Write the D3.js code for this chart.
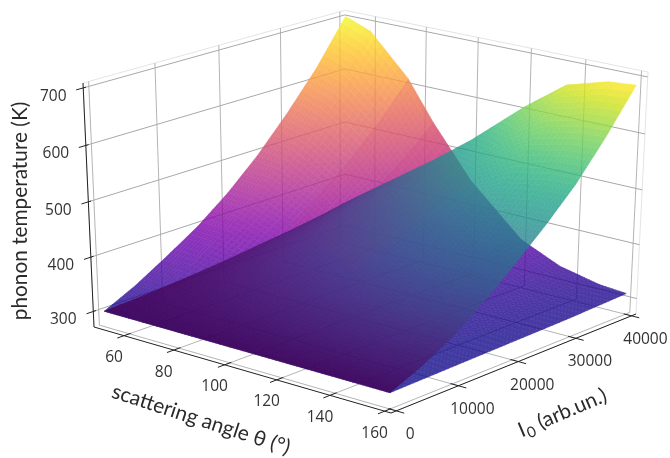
<!DOCTYPE html>
<html>
<head>
<meta charset="utf-8">
<script src="https://cdn.jsdelivr.net/npm/d3@7"></script>
<style>
    html, body { margin: 0; padding: 0; background: #fff; }
    svg { display: block; filter: blur(0.45px); }
    .tick-label { font-family: "Open Sans", sans-serif; font-size: 15.5px; fill: #333; text-anchor: middle; dominant-baseline: central; }
    .axis-label { font-family: Lato, sans-serif; font-size: 20.8px; fill: #2a2a2a; text-anchor: middle; }
</style>
</head>
<body>
<div id="chart"></div>
<script>
// axis ticks
var thetaTicks = [60, 80, 100, 120, 140, 160];
var intensityTicks = [0, 10000, 20000, 30000, 40000];
var tempTicks = [300, 400, 500, 600, 700];

// grid the two surfaces are read on
var thetaValues = [50, 60, 75, 85, 100, 120, 135, 150, 160];
var intensityValues = [0, 5000, 10000, 15000, 20000, 25000, 30000, 35000, 40000];

// phonon temperature, one row per theta, one column per I0
var plasmaTemps = [
    [300, 328, 362, 398, 442, 494, 555, 622, 702],
    [300, 325, 358, 396, 440, 488, 542, 607, 684],
    [300, 320, 347, 378, 414, 453, 497, 550, 612],
    [300, 316, 336, 361, 388, 419, 452, 494, 542],
    [300, 310, 323, 338, 355, 374, 395, 420, 450],
    [300, 304, 309, 316, 323, 330, 339, 350, 362],
    [300, 302, 305, 308, 311, 315, 319, 324, 330],
    [300, 301, 302, 304, 305, 307, 309, 311, 314],
    [300, 301, 302, 303, 304, 305, 306, 308, 310]
];
var viridisTemps = [
    [300, 303, 307, 312, 318, 325, 332, 340, 350],
    [300, 306, 312, 321, 331, 342, 354, 369, 385],
    [300, 309, 320, 334, 350, 368, 387, 410, 436],
    [300, 311, 325, 343, 363, 384, 408, 437, 470],
    [300, 315, 333, 356, 383, 412, 443, 482, 525],
    [300, 320, 345, 377, 414, 453, 496, 548, 607],
    [300, 323, 352, 391, 434, 479, 530, 592, 661],
    [300, 325, 355, 396, 441, 490, 543, 609, 682],
    [300, 325, 356, 397, 443, 492, 546, 612, 686]
];

// plasma surface gets a step in shade between these theta rows, from this I0 column up
var shadeRows = [2, 3];
var shadeToRow = 4;
var shadeFromColumn = 4;

var width = 670, height = 458;

// data to unit cube
var x = d3.scaleLinear().domain([47.7, 162.3]).range([0, 1]);
var y = d3.scaleLinear().domain([-833, 40833]).range([0, 1]);
var z = d3.scaleLinear().domain([271, 708.5]).range([0, 1]);

// unit cube to pixels: perspective fixed by where the box corners land
var buildProjection = function (A, B, C, D, Atop, Ctop) {
    var dx1 = B[0] - C[0], dx2 = D[0] - C[0], sx = A[0] - B[0] + C[0] - D[0];
    var dy1 = B[1] - C[1], dy2 = D[1] - C[1], sy = A[1] - B[1] + C[1] - D[1];
    var den = dx1 * dy2 - dx2 * dy1;
    var g = (sx * dy2 - dx2 * sy) / den;
    var h = (dx1 * sy - sx * dy1) / den;
    var a = B[0] - A[0] + g * B[0], b = D[0] - A[0] + h * D[0], c = A[0];
    var d = B[1] - A[1] + g * B[1], e = D[1] - A[1] + h * D[1], f = A[1];

    // vertical term, from the two top corners (x is the well conditioned one)
    var wC = g + h + 1, uC = a + b + c;
    var c3 = (Ctop[0] * wC - uC + c - Atop[0]) / (Atop[0] - Ctop[0]);
    var c1 = Atop[0] * (1 + c3) - c;
    var c2 = Atop[1] * (1 + c3) - f;

    return function (p) {
        var w = g * p[0] + h * p[1] + c3 * p[2] + 1;
        return [
            (a * p[0] + b * p[1] + c1 * p[2] + c) / w,
            (d * p[0] + e * p[1] + c2 * p[2] + f) / w
        ];
    };
};

var project = buildProjection([94, 327], [391, 413], [636, 314], [345, 240], [83, 83], [648, 74]);

var pt = function (theta, intensity, temp) {
    return project([x(theta), y(intensity), z(temp)]);
};

var svg = d3.select("#chart").append("svg")
    .attr("width", width)
    .attr("height", height);

var thetaLo = x.domain()[0], thetaHi = x.domain()[1];
var iLo = y.domain()[0], iHi = y.domain()[1];
var tLo = z.domain()[0], tHi = z.domain()[1];

var line = d3.line();

var drawLine = function (parent, pts, color, w) {
    parent.append("path")
        .attr("d", line(pts))
        .attr("fill", "none")
        .attr("stroke", color)
        .attr("stroke-width", w);
};

// panes
var grid = svg.append("g");
drawLine(grid, [pt(thetaLo, iLo, tLo), pt(thetaLo, iLo, tHi), pt(thetaLo, iHi, tHi), pt(thetaHi, iHi, tHi), pt(thetaHi, iHi, tLo), pt(thetaHi, iLo, tLo)], "#e4e4e4", 1);

// grid lines
thetaTicks.forEach(function (t) {
    drawLine(grid, [pt(t, iLo, tLo), pt(t, iHi, tLo), pt(t, iHi, tHi)], "#b4b4b4", 1);
});
intensityTicks.forEach(function (i) {
    drawLine(grid, [pt(thetaHi, i, tLo), pt(thetaLo, i, tLo), pt(thetaLo, i, tHi)], "#b4b4b4", 1);
});
tempTicks.forEach(function (t) {
    drawLine(grid, [pt(thetaLo, iLo, t), pt(thetaLo, iHi, t), pt(thetaHi, iHi, t)], "#a8a8a8", 1);
});

// one surface: opaque patches in a translucent group so no seams show
var drawSurface = function (temps, colorFn, opacity) {
    var all = d3.merge(temps);
    var color = d3.scaleSequential(d3.extent(all), colorFn);
    var g = svg.append("g").attr("opacity", opacity);
    var steps = 8;

    var sample = function (r, c, u, v) {
        var t = temps[r][c] * (1 - u) * (1 - v) + temps[r + 1][c] * u * (1 - v) +
            temps[r][c + 1] * (1 - u) * v + temps[r + 1][c + 1] * u * v;
        var th = thetaValues[r] + (thetaValues[r + 1] - thetaValues[r]) * u;
        var ii = intensityValues[c] + (intensityValues[c + 1] - intensityValues[c]) * v;
        return { p: pt(th, ii, t), t: t };
    };

    for (var r = 0; r < thetaValues.length - 1; r++) {
        for (var c = 0; c < intensityValues.length - 1; c++) {
            for (var i = 0; i < steps; i++) {
                for (var j = 0; j < steps; j++) {
                    var s00 = sample(r, c, i / steps, j / steps);
                    var s10 = sample(r, c, (i + 1) / steps, j / steps);
                    var s11 = sample(r, c, (i + 1) / steps, (j + 1) / steps);
                    var s01 = sample(r, c, i / steps, (j + 1) / steps);
                    var fill = color((s00.t + s10.t + s11.t + s01.t) / 4);
                    g.append("path")
                        .attr("d", line([s00.p, s10.p, s11.p, s01.p]) + "Z")
                        .attr("fill", fill)
                        .attr("stroke", fill)
                        .attr("stroke-width", 0.6)
                        .attr("stroke-linejoin", "round");
                }
            }
        }
    }
};

drawSurface(plasmaTemps, d3.interpolatePlasma, 0.8);

// shade steps on the plasma surface, outline taken from the table
shadeRows.forEach(function (row) {
    var outline = [];
    var last = intensityValues.length - 1;
    var c, r;
    for (c = shadeFromColumn; c <= last; c++) {
        outline.push(pt(thetaValues[row], intensityValues[c], plasmaTemps[row][c]));
    }
    for (r = row + 1; r <= shadeToRow; r++) {
        outline.push(pt(thetaValues[r], intensityValues[last], plasmaTemps[r][last]));
    }
    for (r = shadeToRow; r > row; r--) {
        outline.push(pt(thetaValues[r], intensityValues[shadeFromColumn], plasmaTemps[r][shadeFromColumn]));
    }
    svg.append("path")
        .attr("d", line(outline) + "Z")
        .attr("fill", "#c8327c")
        .attr("fill-opacity", 0.13);
});

drawSurface(viridisTemps, d3.interpolateViridis, 0.8);

// axis lines and ticks
var axes = svg.append("g");
drawLine(axes, [pt(thetaLo, iLo, tLo), pt(thetaHi, iLo, tLo)], "#222", 1);
drawLine(axes, [pt(thetaHi, iLo, tLo), pt(thetaHi, iHi, tLo)], "#222", 1);
drawLine(axes, [pt(thetaLo, iLo, tLo), pt(thetaLo, iLo, tHi)], "#222", 1);

var dI = (iHi - iLo) * 0.025, dT = (thetaHi - thetaLo) * 0.025;

thetaTicks.forEach(function (t) {
    drawLine(axes, [pt(t, iLo - dI, tLo), pt(t, iLo + dI, tLo)], "#222", 1);
    var p = pt(t, iLo, tLo);
    axes.append("text").attr("class", "tick-label")
        .attr("x", p[0] - 10).attr("y", p[1] + 20.5).text(t);
});
intensityTicks.forEach(function (i) {
    drawLine(axes, [pt(thetaHi + dT, i, tLo), pt(thetaHi - dT, i, tLo)], "#222", 1);
    var p = pt(thetaHi, i, tLo);
    axes.append("text").attr("class", "tick-label")
        .attr("x", p[0] + 14).attr("y", p[1] + 22).text(i);
});
tempTicks.forEach(function (t) {
    drawLine(axes, [pt(thetaLo, iLo - dI, t), pt(thetaLo, iLo + dI * 0.4, t)], "#222", 1);
    var p = pt(thetaLo, iLo, t);
    axes.append("text").attr("class", "tick-label")
        .attr("x", p[0] - 30).attr("y", p[1] + 7).text(t);
});

// axis titles
svg.append("text").attr("class", "axis-label")
    .attr("transform", "translate(27,211) rotate(-90)")
    .text("phonon temperature (K)");

svg.append("text").attr("class", "axis-label")
    .attr("transform", "translate(199,426) rotate(18)")
    .text("scattering angle \u03b8 (\u00b0)");

var i0Label = svg.append("text").attr("class", "axis-label")
    .attr("transform", "translate(565,419) rotate(-23)");
i0Label.append("tspan").text("I");
i0Label.append("tspan").attr("font-size", "15px").attr("dy", 4).attr("dx", 1).text("0");
i0Label.append("tspan").attr("dy", -4).text(" (arb.un.)");
</script>
</body>
</html>
